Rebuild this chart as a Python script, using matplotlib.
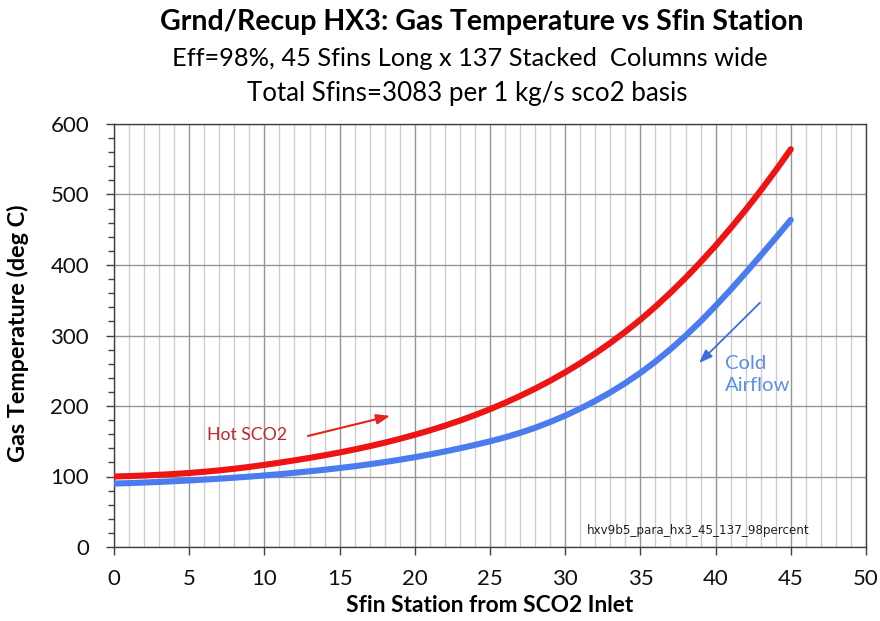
import matplotlib
matplotlib.use("Agg")
import matplotlib.pyplot as plt
from matplotlib.ticker import MultipleLocator

plt.rcParams['font.family'] = ['Lato', 'DejaVu Sans']

stations = list(range(0, 46))
hot_sco2 = [100.0, 100.6, 101.4, 102.4, 103.6, 105.0, 106.7, 108.7, 111.0, 113.6,
            116.5, 119.6, 122.9, 126.4, 130.1, 134.1, 138.4, 143.0, 148.0, 153.4,
            159.2, 165.4, 172.1, 179.3, 187.1, 195.5, 204.5, 214.2, 224.6, 235.8,
            247.8, 260.7, 274.6, 289.5, 305.4, 322.4, 340.9, 360.7, 381.7, 404.0,
            427.5, 452.3, 478.3, 505.6, 534.2, 564.2]
cold_air = [90.0, 90.6, 91.4, 92.3, 93.3, 94.4, 95.6, 96.9, 98.3, 99.8,
            101.5, 103.3, 105.3, 107.4, 109.6, 112.0, 114.6, 117.4, 120.5, 123.8,
            127.4, 131.3, 135.5, 140.0, 144.8, 149.9, 155.5, 161.9, 169.1, 177.3,
            186.3, 196.3, 207.3, 219.3, 232.5, 247.0, 263.0, 280.5, 299.5, 320.0,
            342.0, 365.0, 389.0, 413.5, 438.5, 464.0]

title = "Grnd/Recup HX3: Gas Temperature vs Sfin Station"
subtitle1 = "Eff=98%, 45 Sfins Long x 137 Stacked  Columns wide"
subtitle2 = "Total Sfins=3083 per 1 kg/s sco2 basis"
xlabel = "Sfin Station from SCO2 Inlet"
ylabel = "Gas Temperature (deg C)"
tag = "hxv9b5_para_hx3_45_137_98percent"

fig = plt.figure(figsize=(8.8, 6.21), dpi=100)
ax = fig.add_axes([114/880, 1-547/621, 752/880, 423/621])

ax.set_xlim(0, 50)
ax.set_ylim(0, 600)
ax.xaxis.set_major_locator(MultipleLocator(5))
ax.xaxis.set_minor_locator(MultipleLocator(1))
ax.yaxis.set_major_locator(MultipleLocator(100))
ax.yaxis.set_minor_locator(MultipleLocator(20))

ax.grid(which='minor', axis='x', color='#cdcdcd', linewidth=1.0)
ax.grid(which='major', axis='x', color='#959595', linewidth=1.0)
ax.grid(which='major', axis='y', color='#959595', linewidth=1.0)
ax.set_axisbelow(True)

for s in ax.spines.values():
    s.set_color('#404040')
    s.set_linewidth(1.0)

ax.tick_params(axis='both', which='major', direction='out', length=6, width=1,
               color='#404040', labelsize=16, labelcolor='#111111')
ax.tick_params(axis='x', which='major', pad=10)
ax.tick_params(axis='y', which='major', pad=12)
ax.tick_params(axis='y', which='minor', direction='out', length=4, width=1, color='#404040')
ax.tick_params(axis='x', which='minor', length=0)

ax.plot(stations, hot_sco2, color='#ee1414', linewidth=4.4, solid_capstyle='round', zorder=3)
ax.plot(stations, cold_air, color='#4a7cf0', linewidth=4.4, solid_capstyle='round', zorder=3)

ax.text(6.2, 159, "Hot SCO2", color='#c0262d', fontsize=12.7, ha='left', va='center')
ax.annotate("", xy=(18.35, 186), xytext=(12.9, 157.5),
            arrowprops=dict(arrowstyle='-|>,head_length=0.8,head_width=0.3',
                            color='#e8201e', lw=1.5, shrinkA=0, shrinkB=0))
ax.text(40.6, 245, "Cold\nAirflow", color='#5b8def', fontsize=14.6, ha='left', va='center',
        linespacing=1.35)
ax.annotate("", xy=(38.9, 261), xytext=(42.95, 346.5),
            arrowprops=dict(arrowstyle='-|>,head_length=0.8,head_width=0.3',
                            color='#3a6fe0', lw=1.3, shrinkA=0, shrinkB=0))
ax.text(31.45, 24, tag, fontsize=8.6, family=['DejaVu Sans'], color='#222222',
        ha='left', va='center')

fig.text(482/880, 1-22/621, title, fontsize=20.5, fontweight='bold', ha='center', va='center')
fig.text(470/880, 1-58/621, subtitle1, fontsize=18.3, ha='center', va='center')
fig.text(467/880, 1-93/621, subtitle2, fontsize=18.6, ha='center', va='center')
fig.text(490/880, 1-606/621, xlabel, fontsize=16.4, fontweight='bold', ha='center', va='center')
fig.text(18/880, 1-333/621, ylabel, fontsize=16.8, fontweight='bold', ha='center', va='center',
         rotation=90)

fig.savefig("out.png", dpi=100)
